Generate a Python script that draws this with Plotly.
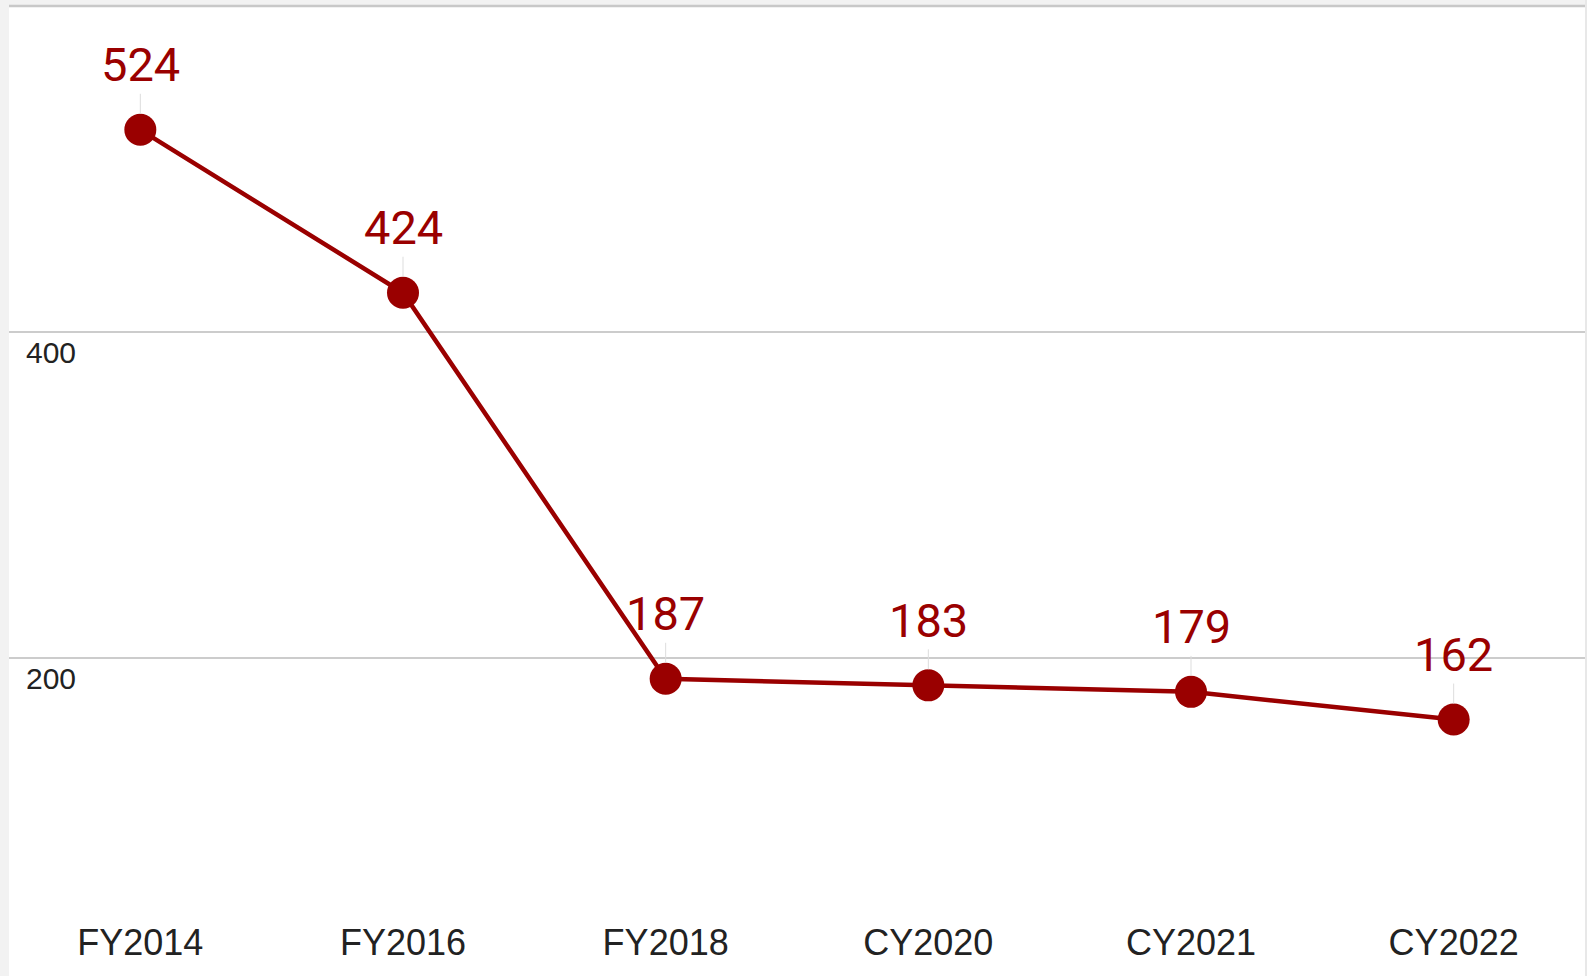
import plotly.graph_objects as go

categories = ["FY2014", "FY2016", "FY2018", "CY2020", "CY2021", "CY2022"]
values = [524, 424, 187, 183, 179, 162]
y_tick_vals = [200, 400, 600]
y_tick_text = ["200", "400", ""]

RED = "#9a0000"
W, H = 1587, 976
ML, MR, MT, MB = 9, 2, 6, 74

fig = go.Figure()
fig.add_trace(go.Scatter(
    x=categories, y=values, mode="lines+markers",
    line=dict(color=RED, width=4.5),
    marker=dict(color=RED, size=32),
    hoverinfo="skip", showlegend=False,
))

for c, v in zip(categories, values):
    fig.add_annotation(
        x=c, y=v, text=str(v), showarrow=True, arrowhead=0,
        arrowcolor="#dddddd", arrowwidth=1, ax=0, ay=-65, standoff=16,
        font=dict(family="Roboto", size=47, color=RED),
        bgcolor="rgba(0,0,0,0)",
    )

pw = W - ML - MR
ph = H - MT - MB
# gray frame strips (left, top, right)
fig.add_shape(type="rect", xref="paper", yref="paper",
              x0=-ML / pw, x1=0, y0=-MB / ph, y1=1 + MT / ph,
              fillcolor="#f2f2f2", line_width=0, layer="below")
fig.add_shape(type="rect", xref="paper", yref="paper",
              x0=-ML / pw, x1=1 + MR / pw, y0=1, y1=1 + MT / ph,
              fillcolor="#f2f2f2", line_width=0, layer="below")
fig.add_shape(type="rect", xref="paper", yref="paper",
              x0=1, x1=1 + MR / pw, y0=-MB / ph, y1=1 + MT / ph,
              fillcolor="#e8e8e8", line_width=0, layer="below")
# top border line (600 gridline)
fig.add_shape(type="line", xref="paper", yref="paper",
              x0=0, x1=1, y0=1, y1=1,
              line=dict(color="#c8c8c8", width=2.5), layer="below")

fig.update_layout(
    width=W, height=H,
    margin=dict(l=ML, r=MR, t=MT, b=MB, autoexpand=False),
    paper_bgcolor="white", plot_bgcolor="white",
    xaxis=dict(
        type="category", showgrid=False, zeroline=False, showline=False,
        automargin=False, ticks="", ticklabelstandoff=16,
        tickfont=dict(family="Liberation Sans, Arial", size=36, color="#222222"),
        range=[-0.5, len(categories) - 0.5],
    ),
    yaxis=dict(
        range=[50, 600], tickvals=y_tick_vals, ticktext=y_tick_text,
        showgrid=True, gridcolor="#cccccc", gridwidth=2, zeroline=False,
        showline=False, ticks="", automargin=False,
        ticklabelposition="inside bottom", ticklabelstandoff=14,
        tickfont=dict(family="Liberation Sans, Arial", size=30, color="#222222"),
    ),
)

fig.write_html(
    "out.html",
    config={"displayModeBar": False},
    post_script="document.body.style.margin='0';document.body.style.overflow='hidden';",
)
